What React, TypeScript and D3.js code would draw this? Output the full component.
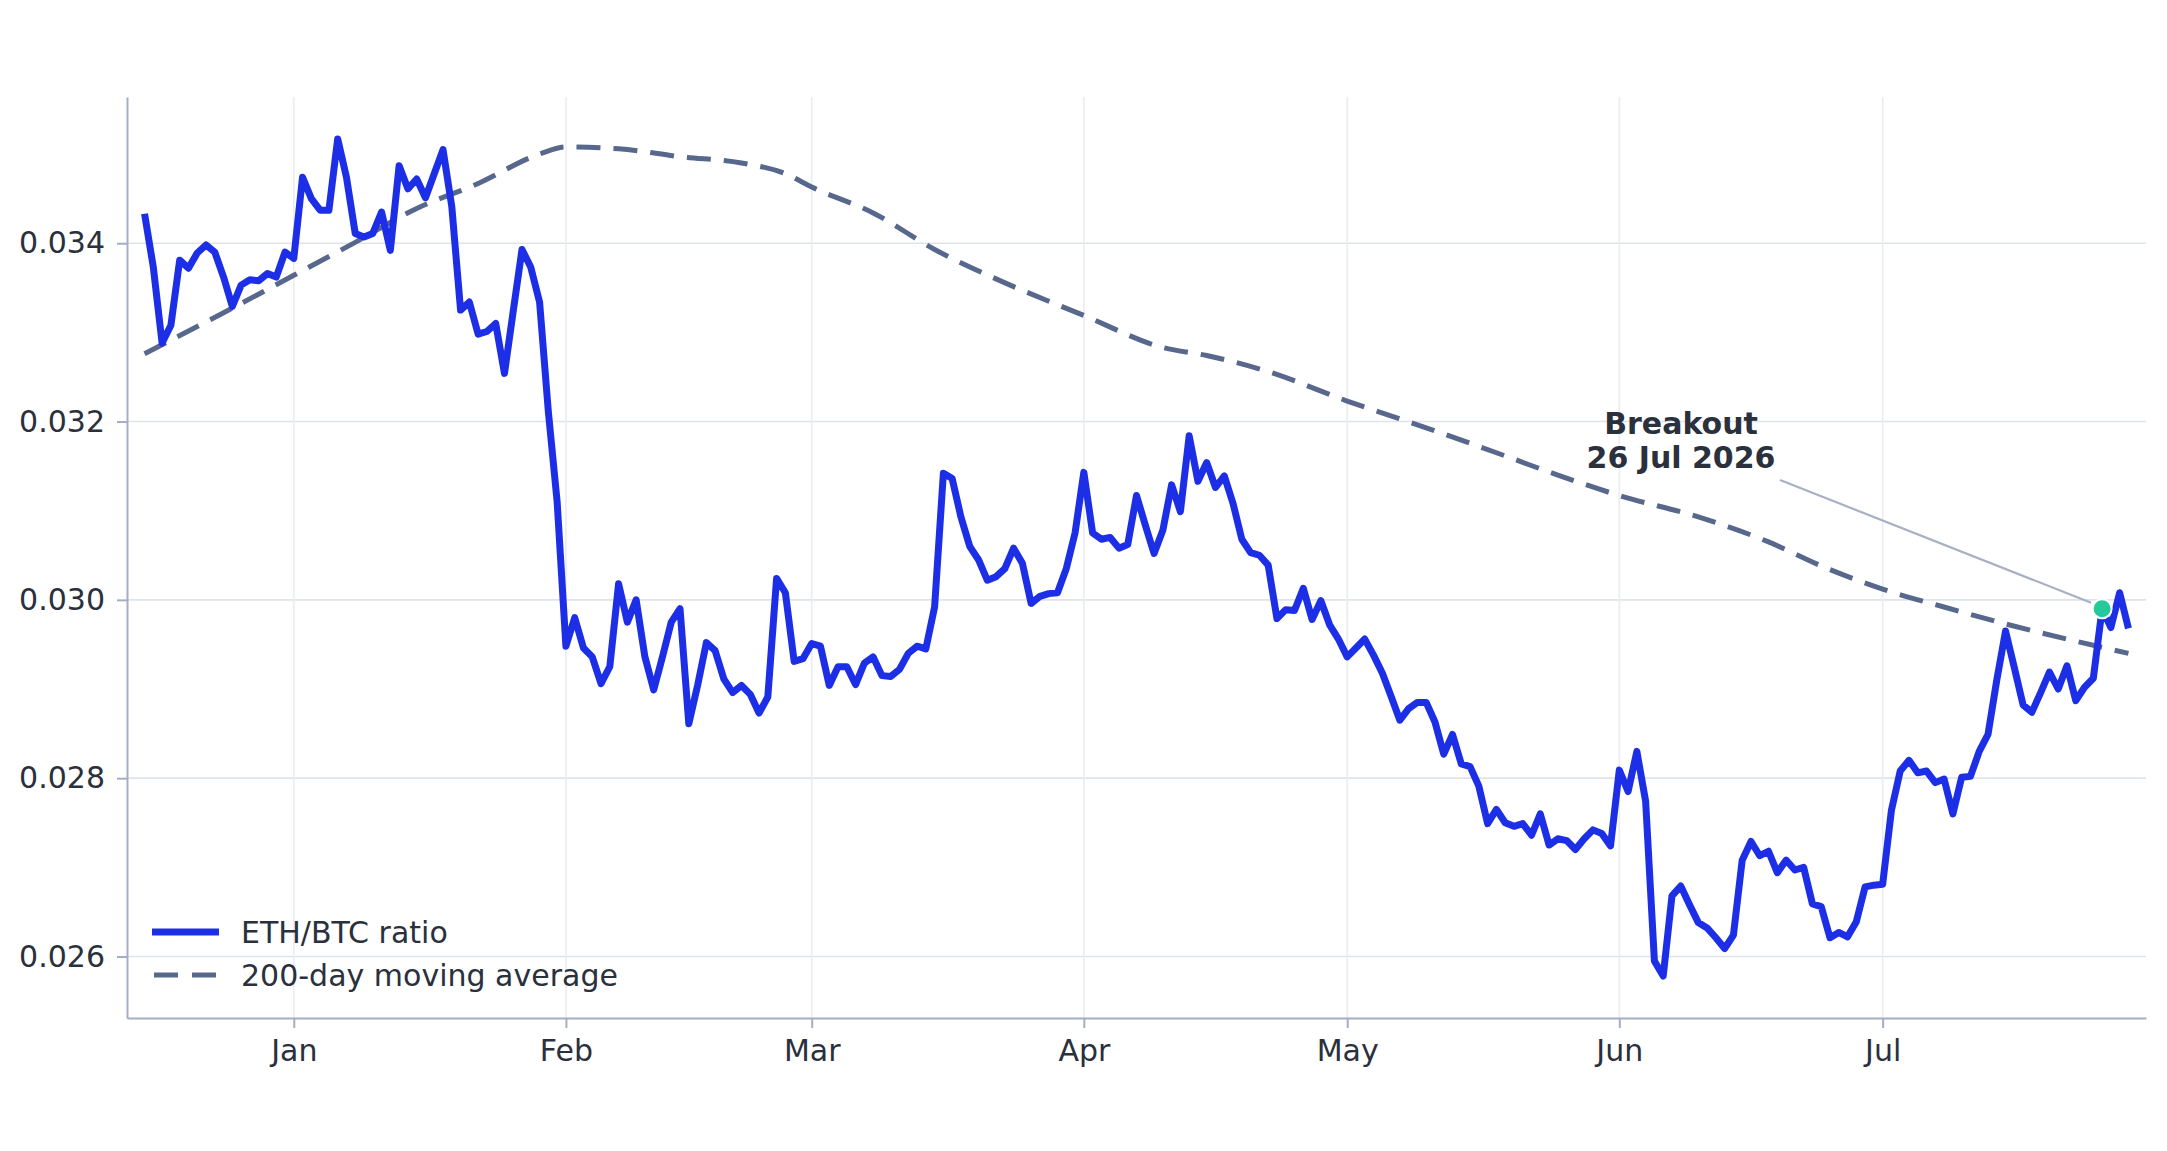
import React, { useRef, useEffect } from "react";
import * as d3 from "d3";

// ETH/BTC daily close, one array per month (15 Dec 2025 .. 29 Jul 2026)
const ratioDec = [
  0.03433, 0.03373, 0.03288, 0.03308, 0.03381, 0.03372, 0.03389, 0.03398, 0.0339,
  0.03362, 0.03329, 0.03353, 0.03359, 0.03358, 0.03366, 0.03362, 0.0339,
];
const ratioJan = [
  0.03383, 0.03474, 0.0345, 0.03437, 0.03437, 0.03517, 0.03474, 0.03411, 0.03407,
  0.03411, 0.03435, 0.03392, 0.03487, 0.03461, 0.03472, 0.03451, 0.03478, 0.03505,
  0.03441, 0.03325, 0.03334, 0.03298, 0.03301, 0.0331, 0.03254, 0.03324, 0.03393,
  0.03373, 0.03334, 0.03211, 0.0311,
];
const ratioFeb = [
  0.02948, 0.0298, 0.02946, 0.02936, 0.02906, 0.02925, 0.03018, 0.02975, 0.03,
  0.02936, 0.02899, 0.02936, 0.02975, 0.0299, 0.02861, 0.02904, 0.02952, 0.02943,
  0.02911, 0.02896, 0.02904, 0.02894, 0.02873, 0.02891, 0.03024, 0.03008, 0.02931,
  0.02934,
];
const ratioMar = [
  0.02951, 0.02948, 0.02904, 0.02925, 0.02925, 0.02905, 0.02929, 0.02936, 0.02915,
  0.02914, 0.02922, 0.0294, 0.02948, 0.02945, 0.02992, 0.03142, 0.03136, 0.03093,
  0.0306, 0.03045, 0.03022, 0.03026, 0.03035, 0.03058, 0.03041, 0.02996, 0.03004,
  0.03007, 0.03008, 0.03035, 0.03075,
];
const ratioApr = [
  0.03143, 0.03075, 0.03068, 0.0307, 0.03058, 0.03062, 0.03117, 0.03084, 0.03052,
  0.03078, 0.03129, 0.03099, 0.03184, 0.03133, 0.03154, 0.03126, 0.03139, 0.03108,
  0.03068, 0.03053, 0.0305, 0.03039, 0.02979, 0.02989, 0.02988, 0.03013, 0.02978,
  0.02999, 0.02972, 0.02956,
];
const ratioMay = [
  0.02936, 0.02946, 0.02956, 0.02938, 0.02918, 0.02892, 0.02865, 0.02878, 0.02885,
  0.02885, 0.02863, 0.02827, 0.02849, 0.02816, 0.02813, 0.02791, 0.02749, 0.02765,
  0.0275, 0.02746, 0.02749, 0.02736, 0.0276, 0.02725, 0.02732, 0.0273, 0.0272,
  0.02732, 0.02742, 0.02738, 0.02724,
];
const ratioJun = [
  0.02809, 0.02785, 0.0283, 0.02774, 0.02595, 0.02578, 0.02668, 0.02679, 0.02658,
  0.02638, 0.02632, 0.02621, 0.02609, 0.02624, 0.02708, 0.02729, 0.02713, 0.02718,
  0.02694, 0.02708, 0.02697, 0.027, 0.02659, 0.02656, 0.02621, 0.02627, 0.02622,
  0.02639, 0.02678, 0.0268,
];
const ratioJul = [
  0.02681, 0.02764, 0.02808, 0.0282, 0.02806, 0.02808, 0.02795, 0.02799, 0.0276,
  0.02801, 0.02802, 0.0283, 0.02849, 0.0291, 0.02965, 0.02924, 0.02882, 0.02874,
  0.02896, 0.02919, 0.029, 0.02926, 0.02887, 0.02902, 0.02912, 0.0299, 0.02969,
  0.03008, 0.02968,
];
const firstDay = "2025-12-15";

// 200-day moving average, read at a handful of dates
const maDates = [
  "2025-12-15", "2025-12-24", "2026-01-01", "2026-01-08", "2026-01-15", "2026-01-22",
  "2026-01-29", "2026-02-01", "2026-02-07", "2026-02-14", "2026-02-21", "2026-02-26",
  "2026-03-01", "2026-03-08", "2026-03-15", "2026-03-22", "2026-04-01", "2026-04-10",
  "2026-04-15", "2026-04-22", "2026-05-01", "2026-05-10", "2026-05-18", "2026-05-25",
  "2026-06-01", "2026-06-10", "2026-06-18", "2026-06-24", "2026-07-01", "2026-07-08",
  "2026-07-15", "2026-07-22", "2026-07-29",
];
const maValues = [
  0.03276, 0.03322, 0.03364, 0.03401, 0.03439, 0.03467, 0.035, 0.03508, 0.03506,
  0.03497, 0.0349, 0.03478, 0.03463, 0.03434, 0.03393, 0.0336, 0.03319, 0.03283,
  0.03274, 0.03256, 0.03223, 0.03193, 0.03165, 0.0314, 0.03117, 0.03093, 0.03065,
  0.03038, 0.03012, 0.02992, 0.02973, 0.02956, 0.0294,
];

const yTicks = [0.026, 0.028, 0.03, 0.032, 0.034];
const monthTicks = ["2026-01-01", "2026-02-01", "2026-03-01", "2026-04-01", "2026-05-01", "2026-06-01", "2026-07-01"];
const monthLabels = ["Jan", "Feb", "Mar", "Apr", "May", "Jun", "Jul"];
const seriesNames = ["ETH/BTC ratio", "200-day moving average"];
const breakoutDate = "2026-07-26";
const breakoutLabel = ["Breakout", "26 Jul 2026"];

const W = 2167;
const H = 1151;
const margin = { top: 97, right: 21, bottom: 133, left: 127 };
const FONT = "'DejaVu Sans', sans-serif";
const FS = "30px";
const TEXT = "#2a303c";
const AXIS = "#a3adc4";
const GRID = "#dfe3eb";
const BLUE = "#1d2fe6";
const SLATE = "#58688c";

const parse = d3.timeParse("%Y-%m-%d");

const App: React.FC = () => {
  const svgRef = useRef<SVGSVGElement | null>(null);

  const drawChart = () => {
    const svg = d3.select(svgRef.current);
    svg.selectAll("*").remove();
    svg
      .attr("width", W)
      .attr("height", H)
      .style("background", "#fff")
      .style("font-family", FONT);

    const ratio = [ratioDec, ratioJan, ratioFeb, ratioMar, ratioApr, ratioMay, ratioJun, ratioJul].flat();
    const start = parse(firstDay)!;
    const data = ratio.map((v, i) => ({ date: d3.timeDay.offset(start, i), v }));
    const ma = maDates.map((d, i) => ({ date: parse(d)!, v: maValues[i] }));

    const x = d3
      .scaleTime()
      .domain([parse("2025-12-13")!, parse("2026-07-31")!])
      .range([margin.left, W - margin.right]);
    const y = d3
      .scaleLinear()
      .domain([0.02531, 0.03564])
      .range([H - margin.bottom, margin.top]);

    // grid
    const grid = svg.append("g");
    grid
      .selectAll("line.h")
      .data(yTicks)
      .enter()
      .append("line")
      .attr("x1", margin.left)
      .attr("x2", W - margin.right)
      .attr("y1", (d) => y(d))
      .attr("y2", (d) => y(d))
      .attr("stroke", GRID)
      .attr("stroke-width", 1.6);
    grid
      .selectAll("line.v")
      .data(monthTicks)
      .enter()
      .append("line")
      .attr("x1", (d) => x(parse(d)!))
      .attr("x2", (d) => x(parse(d)!))
      .attr("y1", margin.top)
      .attr("y2", H - margin.bottom)
      .attr("stroke", "#e9ecf2")
      .attr("stroke-width", 1.6);

    // axes
    const yAxis = svg
      .append("g")
      .attr("transform", `translate(${margin.left},0)`)
      .call(
        d3
          .axisLeft(y)
          .tickValues(yTicks)
          .tickSize(10)
          .tickSizeOuter(0)
          .tickPadding(12)
          .tickFormat(d3.format(".3f") as any)
      );
    const xAxis = svg
      .append("g")
      .attr("transform", `translate(0,${H - margin.bottom})`)
      .call(
        d3
          .axisBottom(x)
          .tickValues(monthTicks.map((d) => parse(d)!))
          .tickSize(10)
          .tickSizeOuter(0)
          .tickPadding(12)
          .tickFormat((_, i) => monthLabels[i])
      );
    [yAxis, xAxis].forEach((g) => {
      g.select(".domain").attr("stroke", AXIS).attr("stroke-width", 2);
      g.selectAll(".tick line").attr("stroke", AXIS).attr("stroke-width", 2);
      g.selectAll(".tick text")
        .attr("fill", TEXT)
        .style("font-size", FS)
        .style("font-family", FONT);
    });

    // moving average
    svg
      .append("path")
      .datum(ma)
      .attr("fill", "none")
      .attr("stroke", SLATE)
      .attr("stroke-width", 5)
      .attr("stroke-dasharray", "24,13")
      .attr(
        "d",
        d3
          .line<{ date: Date; v: number }>()
          .x((d) => x(d.date))
          .y((d) => y(d.v))
          .curve(d3.curveMonotoneX)
      );

    // ratio
    svg
      .append("path")
      .datum(data)
      .attr("fill", "none")
      .attr("stroke", BLUE)
      .attr("stroke-width", 7)
      .attr("stroke-linejoin", "round")
      .attr(
        "d",
        d3
          .line<{ date: Date; v: number }>()
          .x((d) => x(d.date))
          .y((d) => y(d.v))
      );

    // breakout annotation
    const bDate = parse(breakoutDate)!;
    const bPoint = data.find((d) => +d.date === +bDate)!;
    const bx = x(bPoint.date);
    const by = y(bPoint.v);
    const labelX = 1681;
    svg
      .append("line")
      .attr("x1", 1780)
      .attr("y1", 480)
      .attr("x2", bx - 11)
      .attr("y2", by - 6)
      .attr("stroke", "#a9b0c4")
      .attr("stroke-width", 2.2);
    svg
      .append("circle")
      .attr("cx", bx)
      .attr("cy", by)
      .attr("r", 9.5)
      .attr("fill", "#26c99b")
      .attr("stroke", "#fff")
      .attr("stroke-width", 2);
    svg
      .append("text")
      .attr("text-anchor", "middle")
      .attr("fill", TEXT)
      .style("font-size", FS)
      .style("font-weight", "bold")
      .selectAll("tspan")
      .data(breakoutLabel)
      .enter()
      .append("tspan")
      .attr("x", labelX)
      .attr("y", (_, i) => 434 + i * 34)
      .text((d) => d);

    // legend
    const legend = svg.append("g");
    const legendY = [932, 975];
    legend
      .append("line")
      .attr("x1", 152)
      .attr("x2", 219)
      .attr("y1", legendY[0])
      .attr("y2", legendY[0])
      .attr("stroke", BLUE)
      .attr("stroke-width", 7);
    legend
      .append("line")
      .attr("x1", 154)
      .attr("x2", 217)
      .attr("y1", legendY[1])
      .attr("y2", legendY[1])
      .attr("stroke", SLATE)
      .attr("stroke-width", 5)
      .attr("stroke-dasharray", "24,14");
    legend
      .selectAll("text")
      .data(seriesNames)
      .enter()
      .append("text")
      .attr("x", 241)
      .attr("y", (_, i) => legendY[i] + 11)
      .attr("fill", TEXT)
      .style("font-size", FS)
      .text((d) => d);
  };

  useEffect(() => {
    drawChart();
  }, []);

  return (
    <div style={{ position: "absolute", left: 0, top: 0 }}>
      <svg ref={svgRef}></svg>
    </div>
  );
};

export default App;
